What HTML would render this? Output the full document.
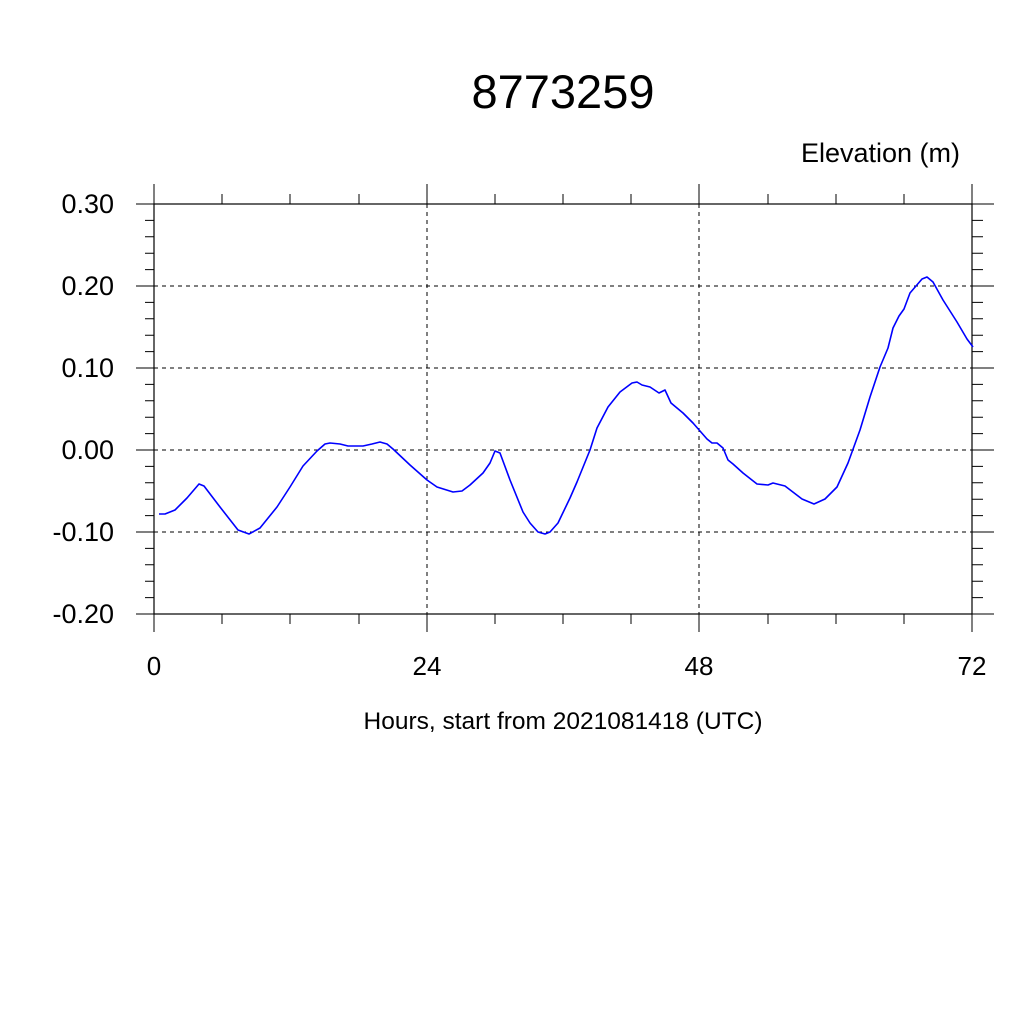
<!DOCTYPE html>
<html><head><meta charset="utf-8"><style>body{margin:0;background:#fff}</style></head><body>
<svg width="1024" height="1024" xmlns="http://www.w3.org/2000/svg" font-family="Liberation Sans, sans-serif">
<rect width="1024" height="1024" fill="#fff"/>
<text x="563" y="108" font-size="47" text-anchor="middle">8773259</text>
<text x="960" y="162" font-size="27" text-anchor="end">Elevation (m)</text>
<g stroke="#000" stroke-width="1" stroke-dasharray="4,4">
<line x1="154" y1="286" x2="972" y2="286"/><line x1="154" y1="368" x2="972" y2="368"/>
<line x1="154" y1="450" x2="972" y2="450"/><line x1="154" y1="532" x2="972" y2="532"/>
<line x1="427" y1="204" x2="427" y2="614"/><line x1="699" y1="204" x2="699" y2="614"/>
</g>
<rect x="154" y="204" width="818" height="410" fill="none" stroke="#000" stroke-width="1.2"/>
<g stroke="#000" stroke-width="1">
<path d="M154 204V184M427 204V184M699 204V184M972 204V184M154 614V632M427 614V632M699 614V632M972 614V632
M222 204V194M290 204V194M359 204V194M495 204V194M563 204V194M631 204V194M768 204V194M836 204V194M904 204V194
M222 614V624M290 614V624M359 614V624M495 614V624M563 614V624M631 614V624M768 614V624M836 614V624M904 614V624
M136 204H154M136 286H154M136 368H154M136 450H154M136 532H154M136 614H154
M972 204H994M972 286H994M972 368H994M972 450H994M972 532H994M972 614H994"/>
<path d="M145 220.4H154M145 236.8H154M145 253.2H154M145 269.6H154M145 302.4H154M145 318.8H154M145 335.2H154M145 351.6H154M145 384.4H154M145 400.8H154M145 417.2H154M145 433.6H154M145 466.4H154M145 482.8H154M145 499.2H154M145 515.6H154M145 548.4H154M145 564.8H154M145 581.2H154M145 597.6H154"/>
<path d="M972 220.4H983M972 236.8H983M972 253.2H983M972 269.6H983M972 302.4H983M972 318.8H983M972 335.2H983M972 351.6H983M972 384.4H983M972 400.8H983M972 417.2H983M972 433.6H983M972 466.4H983M972 482.8H983M972 499.2H983M972 515.6H983M972 548.4H983M972 564.8H983M972 581.2H983M972 597.6H983"/>
</g>
<g font-size="27" text-anchor="end">
<text x="114" y="213">0.30</text><text x="114" y="295">0.20</text><text x="114" y="377">0.10</text>
<text x="114" y="459">0.00</text><text x="114" y="541">-0.10</text><text x="114" y="623">-0.20</text>
</g>
<g font-size="26" text-anchor="middle">
<text x="154" y="675">0</text><text x="427" y="675">24</text><text x="699" y="675">48</text><text x="972" y="675">72</text>
</g>
<text x="563" y="729" font-size="24.5" text-anchor="middle">Hours, start from 2021081418 (UTC)</text>
<polyline fill="none" stroke="#0000ff" stroke-width="1.6" stroke-linejoin="round" points="159,514 165,514 175,510 187,498 199,484 204,486 220,507 238,530 249,534 260,528 277,507 290,487 303,466 317,451 325,444 330,443 340,444 348,446 363,446 372,444 380,442 387,444 393,449 410,465 427,480 437,487 453,492 462,491 470,485 483,473 490,463 495,451 500,453 510,480 523,512 530,523 538,532 545,534 550,532 558,523 570,498 577,482 590,450 597,428 608,407 620,392 632,383 637,382 642,385 650,387 659,393 665,390 671,403 683,413 693,423 707,439 712,443 717,443 723,448 728,460 733,464 743,473 757,484 768,485 773,483 785,486 802,499 814,504 825,499 837,487 848,463 860,430 870,397 880,367 888,348 893,328 899,316 904,309 910,293 922,279 927,277 933,282 943,300 957,322 967,339 973,347"/>
</svg>
</body></html>
